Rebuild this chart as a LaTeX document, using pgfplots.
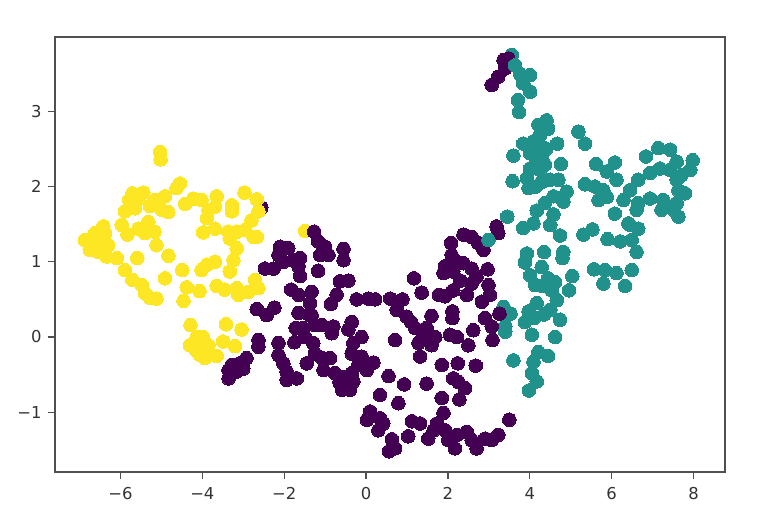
\documentclass[border=0pt]{standalone}
\usepackage{fontspec}
\setmainfont{DejaVu Sans}
\usepackage{pgfplots}
\pgfplotsset{compat=1.18}
\definecolor{vpurple}{HTML}{440154}
\definecolor{vteal}{HTML}{21918C}
\definecolor{vyellow}{HTML}{FDE725}
\definecolor{frameC}{HTML}{505050}
\pgfplotsset{dots/.style={only marks, color=#1, mark=*, mark size=5.1pt, mark options={draw=#1, fill=#1, line width=0pt}}}

\begin{document}
\begin{tikzpicture}
\useasboundingbox (-41.25pt,-37.5pt) rectangle (542.25pt,354pt);
\begin{axis}[
	scale only axis,
	width=502.5pt,
	height=326.25pt,
	xmin=-7.60, xmax=8.77,
	ymin=-1.794, ymax=3.987,
	xtick={-6,-4,-2,0,2,4,6,8},
	xticklabels={−6,−4,−2,0,2,4,6,8},
	ytick={-1,0,1,2,3},
	yticklabels={−1,0,1,2,3},
	tick label style={font=\fontsize{12.3}{14}\selectfont, text=black!80},
	xticklabel style={yshift=-2.5pt},
	yticklabel style={xshift=-1pt},
	tick align=outside,
	major tick length=5.5pt,
	tick pos=left,
	axis line style={frameC, line width=1pt},
	tick style={frameC, line width=1pt},
	clip=true,
]
% teal points that lie behind the purple ones
\addplot[dots=vteal] coordinates {
(3.56,3.75)(3.36,0.40)(3.53,0.31)(3.40,0.14)(3.40,0.07)
};
% yellow behind purple
\addplot[dots=vyellow] coordinates {
(-1.49,1.41)(-3.65,-0.25)(-3.20,-0.12)(-3.94,-0.28)
};
% purple
\addplot[dots=vpurple] coordinates {
(-2.92,-0.28)(-3.08,-0.35)(-3.28,-0.37)(-3.36,-0.55)(-3.16,-0.46)(-3.00,-0.42)(-3.36,-0.44)
(-2.63,-0.04)(-2.63,-0.13)(-2.67,0.37)(-2.43,0.29)(-2.24,0.39)
(-2.47,0.91)(-2.26,0.91)(-2.10,1.20)(-1.90,1.18)(-2.14,1.09)(-2.02,1.00)(-1.78,1.02)(-1.61,1.05)(-1.65,0.94)(-1.61,0.81)
(-1.27,1.40)(-1.17,1.27)(-1.00,1.20)(-1.12,1.09)(-0.92,1.09)(-0.55,1.17)(-0.55,1.02)(-1.17,0.88)
(-1.83,0.63)(-1.65,0.56)(-1.33,0.60)(-1.37,0.45)(-1.65,0.32)(-1.33,0.29)(-1.25,0.16)(-1.72,0.12)(-1.53,0.12)(-1.08,0.16)(-0.80,0.14)(-0.84,0.05)(-0.35,0.20)(-0.43,0.10)
(-1.75,-0.07)(-1.49,0.00)(-1.29,-0.08)(-2.14,-0.08)(-2.14,-0.24)(-2.02,-0.35)(-1.94,-0.46)(-1.94,-0.57)(-1.69,-0.55)
(-1.45,-0.35)(-1.25,-0.22)(-1.08,-0.28)(-0.88,-0.28)(-1.04,-0.44)(-0.76,-0.48)(-0.59,-0.53)(-0.35,-0.48)(-0.59,-0.70)(-0.39,-0.70)(-0.31,-0.59)(-0.51,-0.59)
(-0.11,0.00)(-0.31,-0.08)(-0.35,-0.22)(-0.11,-0.26)(0.18,-0.34)(0.02,-0.44)(-0.19,-0.37)
(-0.64,0.74)(-0.43,0.75)(-0.72,0.56)(-0.86,0.44)(-0.23,0.50)(0.06,0.51)(0.22,0.50)
(0.59,0.51)(0.89,0.50)(0.75,0.36)(0.99,0.27)(1.20,0.12)(1.60,0.28)(1.48,0.12)(1.69,0.00)(1.28,-0.08)(1.60,-0.11)(0.71,-0.04)(1.32,-0.26)
(1.17,0.78)(1.36,0.59)(1.78,0.56)(1.93,0.54)(2.11,0.34)(2.11,0.25)(2.05,0.03)(2.22,0.00)(2.62,0.09)(2.50,-0.11)
(2.08,1.25)(2.09,1.09)(2.38,1.36)(2.58,1.33)(2.74,1.25)(2.87,1.16)(3.19,1.47)(3.23,1.38)
(1.93,0.94)(1.89,0.85)(2.17,1.02)(2.38,0.98)(2.58,0.91)(2.97,0.90)(2.13,0.87)(2.13,0.62)(2.46,0.56)(2.58,0.71)(2.99,0.69)(3.03,0.56)(2.83,0.47)
(2.91,0.25)(3.07,0.14)(3.26,0.31)(3.09,-0.04)
(1.85,-0.37)(2.24,-0.35)(2.68,-0.38)(2.13,-0.55)(2.42,-0.68)(2.28,-0.83)
(0.55,-0.52)(0.93,-0.63)(1.48,-0.62)(0.34,-0.77)(0.79,-0.88)(1.85,-0.81)(1.89,-1.01)
(0.10,-0.99)(0.02,-1.10)(0.34,-1.08)(0.30,-1.24)(0.42,-1.15)
(1.12,-1.12)(1.32,-1.15)(1.03,-1.32)(0.63,-1.36)(0.71,-1.48)(0.56,-1.52)
(1.52,-1.35)(1.65,-1.24)(1.93,-1.24)(2.17,-1.48)(2.22,-1.30)(2.46,-1.26)(2.70,-1.48)(2.58,-1.37)(2.91,-1.35)(3.23,-1.30)(3.07,-1.37)(3.50,-1.10)(1.73,-1.15)(2.01,-1.37)
(3.07,3.35)(3.23,3.46)(3.40,3.57)(3.36,3.68)(3.48,3.70)
(-2.56,1.72)
(2.30,0.75)(2.70,0.80)(2.26,-0.60)(1.40,0.00)(1.10,0.20)(-0.65,-0.60)(-1.40,0.30)
};
% yellow
\addplot[dots=vyellow] coordinates {
(-5.03,2.46)(-5.02,2.36)(-4.55,2.04)(-4.63,1.98)(-5.71,1.91)(-5.44,1.92)(-5.79,1.82)(-5.56,1.84)(-5.89,1.67)(-5.65,1.71)
(-5.16,1.82)(-4.91,1.87)(-5.28,1.74)(-4.99,1.69)(-4.83,1.66)(-4.42,1.77)(-4.22,1.84)(-4.02,1.82)(-3.65,1.87)(-3.69,1.73)
(-3.85,1.69)(-3.89,1.58)(-3.69,1.44)(-3.98,1.39)(-3.28,1.75)(-3.28,1.67)(-2.97,1.92)(-2.67,1.83)(-2.63,1.67)(-2.80,1.55)
(-2.96,1.42)(-3.16,1.40)(-3.37,1.40)(-3.33,1.31)(-2.75,1.33)(-2.67,1.33)(-3.16,1.18)(-3.24,1.02)(-3.33,0.87)(-3.69,1.00)
(-3.89,0.96)(-4.02,0.89)(-5.97,1.49)(-5.83,1.36)(-5.56,1.44)(-5.32,1.53)(-5.40,1.38)(-5.17,1.40)(-5.12,1.22)(-4.83,1.08)
(-5.59,1.05)(-4.49,0.89)(-4.91,0.78)(-5.89,0.89)(-5.71,0.76)(-5.48,0.69)(-5.40,0.58)(-5.12,0.51)(-5.28,0.52)
(-6.87,1.29)(-6.75,1.16)(-6.42,1.47)(-6.62,1.38)(-6.46,1.25)(-6.34,1.07)(-6.09,1.05)(-6.54,1.13)(-6.70,1.29)(-6.38,1.38)(-6.30,1.22)
(-4.38,0.66)(-4.07,0.61)(-4.46,0.48)(-3.65,0.68)(-3.45,0.63)(-3.16,0.65)(-3.12,0.56)(-2.88,0.60)(-2.63,0.65)(-2.71,0.76)
(-4.29,0.16)(-3.42,0.17)(-3.04,0.10)(-4.14,0.00)(-4.30,-0.11)(-4.02,-0.13)(-3.85,-0.11)(-3.49,-0.06)
(-4.15,-0.18)(-4.05,-0.24)(-3.80,-0.24)(-3.98,0.00)
};
% teal
\addplot[dots=vteal] coordinates {
(3.64,3.61)(3.76,3.50)(4.01,3.48)(3.84,3.37)(4.01,3.26)(3.71,3.15)(3.74,2.99)
(4.41,2.88)(4.21,2.82)(4.45,2.77)(4.25,2.68)(4.67,2.57)(3.84,2.57)(4.09,2.60)(4.29,2.53)(3.60,2.41)(4.01,2.44)(4.29,2.40)(4.37,2.29)(4.76,2.30)(4.01,2.24)(4.25,2.22)
(3.58,2.07)(3.97,1.98)(3.93,2.11)(4.29,2.06)(4.50,2.09)(4.70,2.09)(4.90,1.93)(4.58,1.87)(4.82,1.80)(4.37,1.78)(4.17,1.68)(4.58,1.63)(4.50,1.49)(4.74,1.35)(4.09,1.51)(3.84,1.45)(3.45,1.60)
(5.19,2.73)(5.35,2.57)(5.62,2.30)(6.08,2.32)(5.88,2.20)(6.12,2.09)(5.35,2.03)(5.59,2.00)(5.80,1.95)(5.68,1.82)(5.88,1.86)
(5.31,1.36)(5.53,1.43)(5.90,1.30)(6.21,1.27)(6.49,1.29)(6.61,1.13)(6.45,1.49)(6.65,1.44)(6.41,1.51)
(6.08,1.64)(6.29,1.82)(6.45,1.95)(6.65,2.09)(6.94,2.18)(7.18,2.24)(7.43,2.22)(6.84,2.40)(7.14,2.51)(7.43,2.49)(7.59,2.33)(7.98,2.35)(7.92,2.22)(7.59,2.09)(7.79,1.91)(7.63,1.95)
(6.61,1.69)(6.65,1.78)(6.94,1.84)(7.26,1.82)(7.22,1.69)(7.59,1.78)(7.63,1.60)(7.51,1.69)
(5.57,0.90)(5.84,0.89)(5.80,0.71)(6.12,0.85)(6.33,0.68)(6.49,0.89)
(3.93,1.11)(4.35,1.13)(4.82,1.13)(4.80,1.05)(3.88,0.99)(4.29,0.93)(4.01,0.82)(4.13,0.69)(4.45,0.78)(4.62,0.73)(4.54,0.62)(5.04,0.81)(4.96,0.62)(4.66,0.49)(4.17,0.45)(4.50,0.36)(4.74,0.23)(3.97,0.34)(3.88,0.20)(4.05,0.03)(4.62,0.00)
(2.99,1.29)
(3.60,-0.31)(4.21,-0.20)(4.45,-0.25)(4.09,-0.33)(4.05,-0.48)(4.17,-0.59)(3.98,-0.71)
(4.15,2.35)(4.40,2.50)(4.15,2.00)(4.30,0.68)(4.35,0.30)(4.10,0.25)(7.35,1.75)(7.70,2.15)
};
\end{axis}
\end{tikzpicture}
\end{document}
